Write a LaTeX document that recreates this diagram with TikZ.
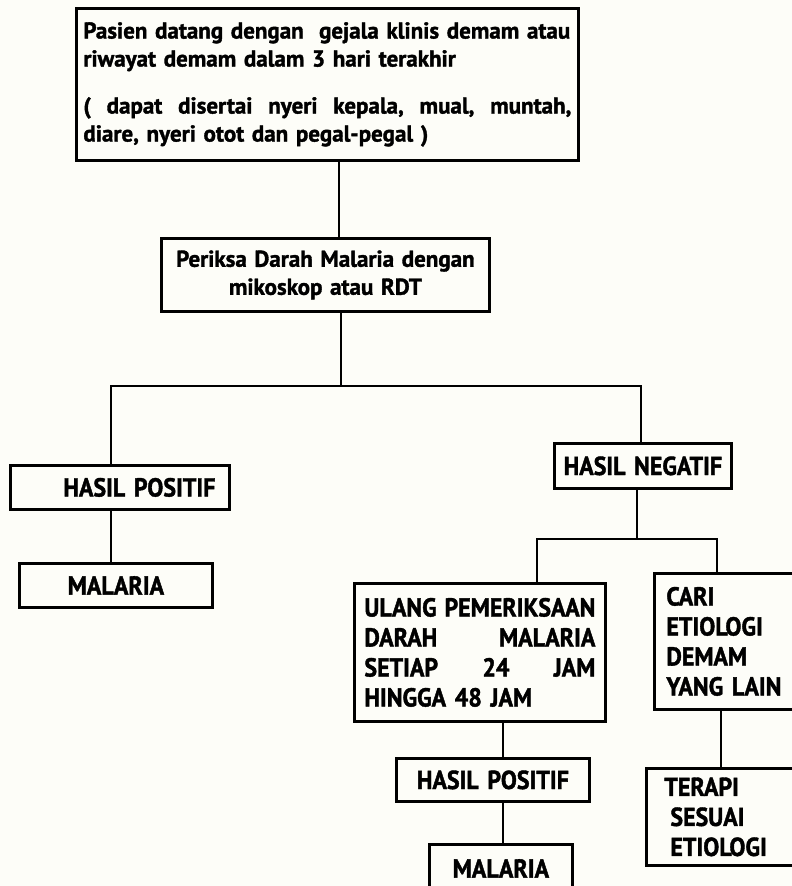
\documentclass[tikz,border=0pt]{standalone}
\usepackage{fontspec}
\setmainfont{PT Sans}[BoldFeatures={FakeBold=1.5}]
\newfontfamily\capsfamily{PT Sans}[FakeStretch=0.92, BoldFeatures={FakeBold=1.5}]
\usetikzlibrary{calc}
\definecolor{paper}{RGB}{253,253,248}
\newcommand{\txtsmall}{\fontsize{23}{28}\selectfont\bfseries}
\newcommand{\txtcaps}{\capsfamily\fontsize{26}{30}\selectfont\bfseries}
\tikzset{
  box/.style={draw, line width=2.8pt, rectangle, inner sep=0pt, anchor=north west},
  wire/.style={line width=2.8pt, line join=miter},
}
\begin{document}
\begin{tikzpicture}[x=1pt, y=-1pt]
  \path[use as bounding box, fill=paper] (0,0) rectangle (792,886);
  \clip (0,0) rectangle (792,886);

  % upper part
  \node[box, minimum width=502pt, minimum height=152pt, text width=488pt,
        inner xsep=7pt, align=left, font=\txtsmall] (top) at (75,7)
    {Pasien datang dengan\ \ gejala klinis demam atau\\
     riwayat demam dalam 3 hari terakhir\\[19pt]
     (\hfill dapat\hfill disertai\hfill nyeri\hfill kepala,\hfill mual,\hfill muntah,\\
     diare, nyeri otot dan pegal-pegal )};

  \node[box, minimum width=328pt, minimum height=73pt, text width=328pt,
        align=center, font=\txtsmall] (periksa) at (160,237)
    {Periksa Darah Malaria dengan\\ mikoskop atau RDT};

  % left branch
  \node[box, minimum width=219pt, minimum height=44pt, text width=219pt,
        align=left, font=\txtcaps] (hp1) at (9,464)
    {\hspace*{53pt}HASIL POSITIF};
  \node[box, minimum width=193pt, minimum height=44pt, text width=193pt,
        align=center, font=\txtcaps] (mal1) at (18,562) {MALARIA};

  % right branch
  \node[box, minimum width=177pt, minimum height=45pt, text width=177pt,
        align=center, font=\txtcaps] (hn) at (553,442) {HASIL NEGATIF};

  \node[box, minimum width=251pt, minimum height=138pt, text width=231pt,
        inner xsep=10pt, align=left, font=\txtcaps] (ulang) at (353,582)
    {ULANG\hfill PEMERIKSAAN\\
     DARAH\hfill MALARIA\\
     SETIAP\hfill 24\hfill JAM\\
     HINGGA 48 JAM};

  \node[box, minimum width=193pt, minimum height=43pt, text width=193pt,
        align=center, font=\txtcaps] (hp2) at (395,757) {HASIL POSITIF};
  \node[box, minimum width=143pt, minimum height=50pt, text width=143pt,
        align=center, font=\txtcaps] (mal2) at (428,843)
    {\raisebox{2pt}{MALARIA}};

  \node[box, minimum width=150pt, minimum height=136pt, text width=126pt,
        inner xsep=12pt, align=left, font=\txtcaps] (cari) at (653,572)
    {CARI\\ ETIOLOGI\\ DEMAM\\ YANG LAIN};

  \node[box, minimum width=160pt, minimum height=97pt, text width=124pt,
        inner xsep=18pt, align=left, font=\txtcaps] (terapi) at (645,767)
    {TERAPI\\ \hspace*{6pt}SESUAI\\ \hspace*{6pt}ETIOLOGI};

  % junction points of the connectors
  \coordinate (s1) at (339,0);
  \coordinate (b0) at (341,386);
  \coordinate (bl) at (111,386);
  \coordinate (br) at (641,386);
  \coordinate (n0) at (637,539);
  \coordinate (nl) at (537,539);
  \coordinate (nr) at (717,539);
  \coordinate (s2) at (503,0);
  \coordinate (s3) at (721,0);

  % connectors
  \draw[wire] (top.south -| s1) -- (periksa.north -| s1);
  \draw[wire] (periksa.south -| b0) -- (b0);
  \draw[wire] (hp1.north -| bl) -- (bl) -- (br) -- (hn.north -| br);
  \draw[wire] (hp1.south -| bl) -- (mal1.north -| bl);
  \draw[wire] (hn.south -| n0) -- (n0);
  \draw[wire] (ulang.north -| nl) -- (nl) -- (nr) -- (cari.north -| nr);
  \draw[wire] (ulang.south -| s2) -- (hp2.north -| s2);
  \draw[wire] (hp2.south -| s2) -- (mal2.north -| s2);
  \draw[wire] (cari.south -| s3) -- (terapi.north -| s3);
\end{tikzpicture}
\end{document}
